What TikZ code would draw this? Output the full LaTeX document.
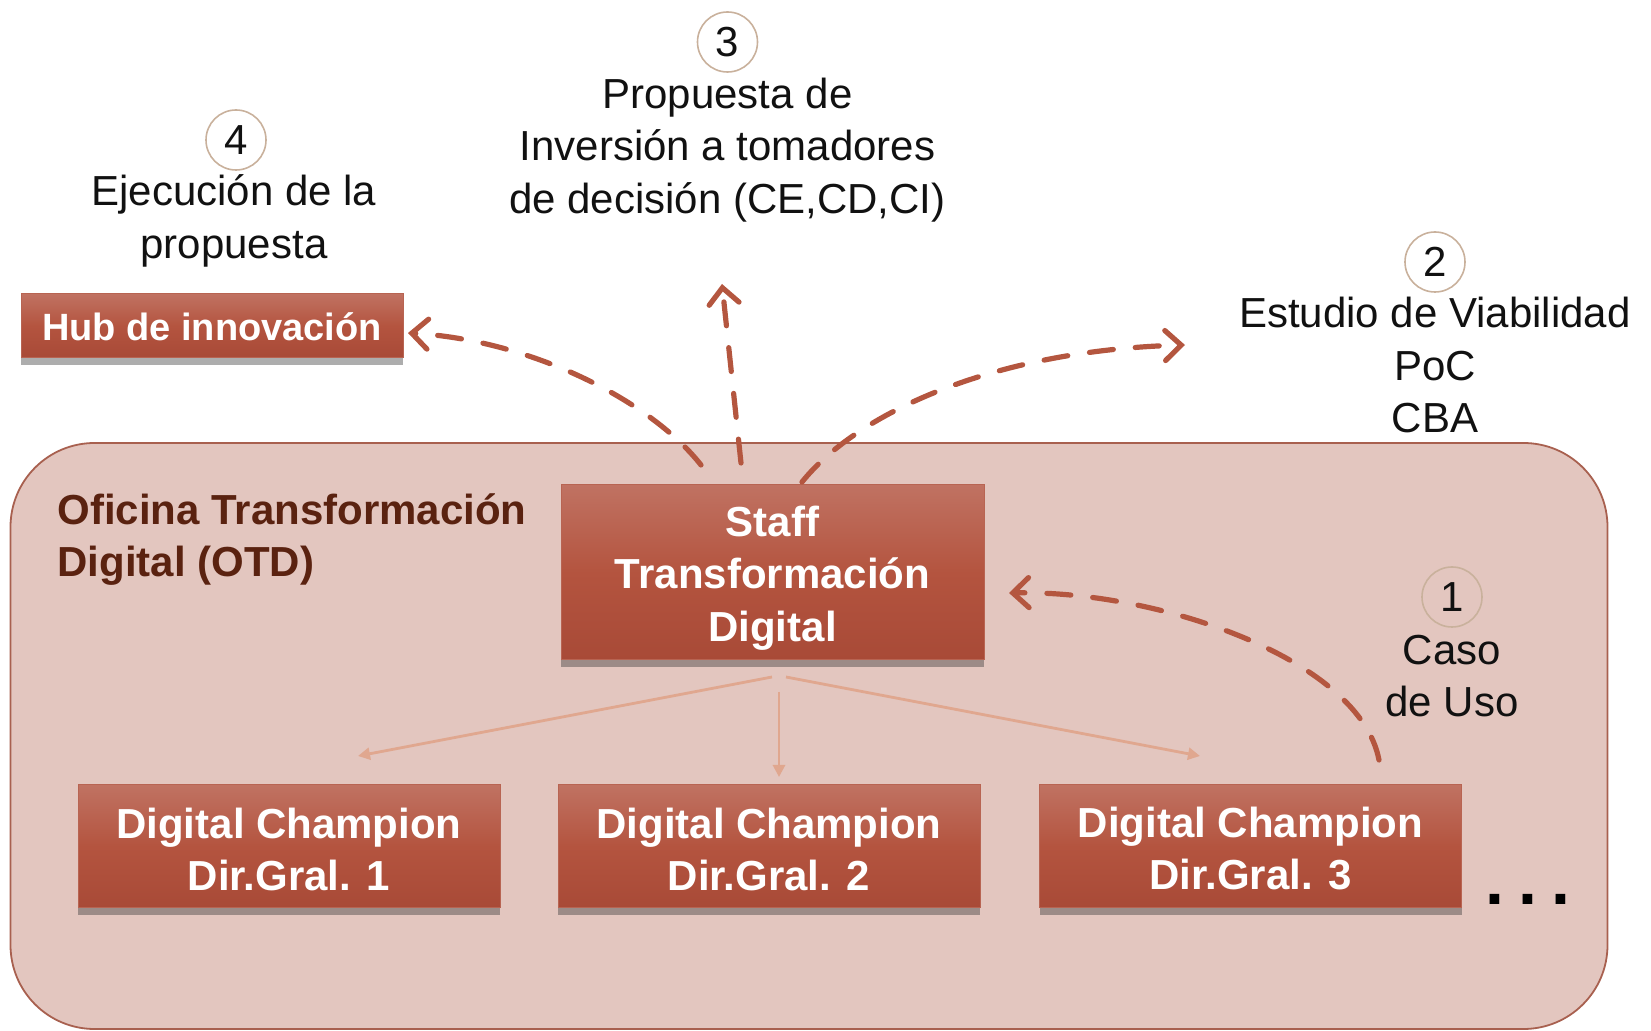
\documentclass[tikz,border=0pt]{standalone}
\usepackage{fontspec}
\setmainfont{Liberation Sans}
\usetikzlibrary{arrows.meta,shadows}
\definecolor{bgfill}{HTML}{E3C6BF}
\definecolor{bgedge}{HTML}{A8604F}
\definecolor{boxtop}{HTML}{C07262}
\definecolor{boxmid}{HTML}{B4543F}
\definecolor{boxbot}{HTML}{A84A37}
\definecolor{boxedge}{HTML}{B86452}
\definecolor{dasharr}{HTML}{B4563F}
\definecolor{thinarr}{HTML}{E0A78F}
\definecolor{circedge}{HTML}{C9B19C}
\definecolor{otdtext}{HTML}{5A2210}
\definecolor{labeltext}{HTML}{111111}
\begin{document}
\begin{tikzpicture}[x=0.5pt,y=-0.5pt,
  every node/.style={font=\fontsize{21}{26.3}\selectfont, text=labeltext},
  redbox/.style={draw=boxedge, line width=0.5pt, top color=boxtop, bottom color=boxbot, middle color=boxmid,
    inner sep=0pt,
    drop shadow={shadow xshift=0pt, shadow yshift=-3.5pt, opacity=0.4, fill=black!80}},
  boxtext/.style={text=white, font=\bfseries\fontsize{21}{26}\selectfont, align=center, inner sep=0pt},
  numc/.style={circle, draw=circedge, line width=0.8pt, minimum size=30pt, inner sep=0pt},
  lbl/.style={align=center, inner sep=0pt},
  dasharrow/.style={draw=dasharr, line width=2.6pt, line cap=round, dash pattern=on 12pt off 11pt,
    -{Straight Barb[length=8pt,width=15pt,line cap=round]}},
  thinarrow/.style={draw=thinarr, line width=1.4pt, -{Triangle[length=6pt,width=6pt]}}
]
\useasboundingbox (0,0) rectangle (1651,1031);

% OTD container
\node[draw=bgedge, fill=bgfill, line width=0.9pt, rounded corners=42pt,
      minimum width=798.5pt, minimum height=293pt, inner sep=0pt] (otd) at (809,736) {};
\node[anchor=west, align=left, inner sep=0pt, text=otdtext,
      font=\bfseries\fontsize{21}{25.6}\selectfont] (otdlbl) at (57,539.5)
      {Oficina Transformación\\Digital (OTD)};

% boxes
\node[redbox, minimum width=191pt, minimum height=32pt] (hub) at (212,326) {};
\node[boxtext, font=\bfseries\fontsize{19}{23}\selectfont] (hubtxt) at (212,327) {Hub de innovación};
\node[redbox, minimum width=211.5pt, minimum height=87.5pt] (staff) at (772.5,572.5) {};
\node[boxtext, font=\bfseries\fontsize{21}{26.3}\selectfont] (stafftxt) at (772.5,578) {Staff\\Transformación\\Digital};
\node[redbox, minimum width=211pt, minimum height=61.5pt] (dc1) at (289,846.5) {};
\node[boxtext] (dc1txt) at (289,849) {Digital Champion\\Dir.Gral. 1};
\node[redbox, minimum width=211pt, minimum height=61.5pt] (dc2) at (769,846.5) {};
\node[boxtext] (dc2txt) at (769,849) {Digital Champion\\Dir.Gral. 2};
\node[redbox, minimum width=211pt, minimum height=61.5pt] (dc3) at (1250.5,846.5) {};
\node[boxtext] (dc3txt) at (1250.5,849) {Digital Champion\\Dir.Gral. 3};
\node[inner sep=0pt, text=black, font=\bfseries\fontsize{34}{34}\selectfont] (dots) at (1528,899)
      {.\hspace{7pt}.\hspace{7pt}.};

% numbered labels
\node[numc] (c4) at (236,140) {4};
\node[lbl] (l4) at (234,221) {Ejecución de la\\propuesta};
\node[numc] (c3) at (727.5,42) {3};
\node[lbl] (l3) at (727.5,150) {Propuesta de\\Inversión a tomadores\\de decisión (CE,CD,CI)};
\node[numc] (c2) at (1435,262) {2};
\node[lbl] (l2) at (1435,365) {Estudio de Viabilidad\\PoC\\CBA};
\node[numc] (c1) at (1452,597) {1};
\node[lbl] (l1) at (1452,676) {Caso\\de Uso};

% connector end points
\coordinate (sHub) at (701,465);
\coordinate (eHub) at (408,333);
\coordinate (sUp) at (741,463);
\coordinate (eUp) at (722,284);
\coordinate (sRight) at (802,482);
\coordinate (eRight) at (1185,345);
\coordinate (sCase) at (1379,760);
\coordinate (eCase) at (1009,593);
\coordinate (tL) at (772,677);
\coordinate (tM) at (779,692);
\coordinate (tR) at (786,677);
\coordinate (eL) at (358,756);
\coordinate (eM) at (779,777);
\coordinate (eR) at (1200,756);

% dashed arrows
\draw[dasharrow] (sHub) .. controls (650,400) and (530,340) .. (eHub);
\draw[dasharrow] (sUp) -- (eUp);
\draw[dasharrow] (sRight) .. controls (860,410) and (1000,350) .. (eRight);
\draw[dasharrow] (sCase) .. controls (1360,660) and (1160,590) .. (eCase);

% thin arrows
\draw[thinarrow] (tL) -- (eL);
\draw[thinarrow] (tM) -- (eM);
\draw[thinarrow] (tR) -- (eR);
\end{tikzpicture}
\end{document}
